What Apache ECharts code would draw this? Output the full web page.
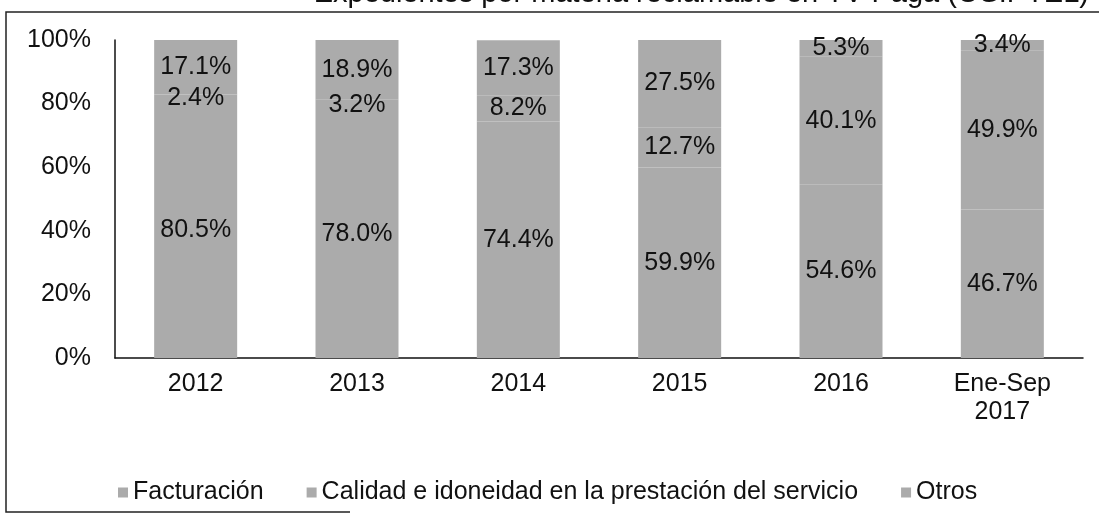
<!DOCTYPE html>
<html>
<head>
<meta charset="utf-8">
<script src="https://cdn.jsdelivr.net/npm/echarts@6/dist/echarts.min.js"></script>
<style>
    html, body { margin: 0; padding: 0; background: #fff; }
    #chart { width: 1099px; height: 522px; }
</style>
</head>
<body>
<div id="chart"></div>
<script>
var years = ['2012', '2013', '2014', '2015', '2016', 'Ene-Sep\n2017'];
var facturacion = [80.5, 78.0, 74.4, 59.9, 54.6, 46.7];
var calidad = [2.4, 3.2, 8.2, 12.7, 40.1, 49.9];
var otros = [17.1, 18.9, 17.3, 27.5, 5.3, 3.4];
var seriesNames = ['Facturación', 'Calidad e idoneidad en la prestación del servicio', 'Otros'];
var titleText = 'Expedientes por materia reclamable en TV Paga (OSIPTEL)';

var chart = echarts.init(document.getElementById('chart'));

function barSeries(name, data, color) {
    return {
        name: name,
        type: 'bar',
        stack: 'total',
        barWidth: 83,
        itemStyle: { color: color },
        label: {
            show: true,
            position: 'inside',
            fontFamily: 'Liberation Sans',
            fontSize: 25,
            color: '#111',
            formatter: function (p) {
                return p.value.toFixed(1) + '%';
            }
        },
        data: data
    };
}

chart.setOption({
    animation: false,
    textStyle: { fontFamily: 'Liberation Sans' },
    graphic: [
        {
            type: 'polyline',
            shape: { points: [[1099, 12], [6, 12], [6, 512], [350, 512]] },
            style: { stroke: '#222', lineWidth: 1.5, fill: null }
        },
        {
            type: 'text',
            x: 1089,
            y: 8,
            style: {
                text: titleText,
                fontFamily: 'Liberation Sans',
                fontSize: 29,
                fill: '#111',
                align: 'right',
                verticalAlign: 'bottom'
            }
        }
    ],
    legend: {
        left: 113,
        top: 475,
        icon: 'rect',
        itemWidth: 10,
        itemHeight: 10,
        itemGap: 43,
        textStyle: { fontSize: 25, color: '#111', fontFamily: 'Liberation Sans' },
        data: seriesNames
    },
    grid: { //区域
        left: 115,
        right: 16,
        top: 40,
        bottom: 164
    },
    xAxis: {
        type: 'category',
        data: years,
        axisLine: { lineStyle: { color: '#111', width: 1.5 } },
        axisTick: { show: false },
        axisLabel: {
            margin: 12,
            fontSize: 25,
            lineHeight: 28,
            color: '#111',
            interval: 0
        }
    },
    yAxis: {
        type: 'value',
        min: 0,
        max: 100,
        interval: 20,
        axisLine: { show: true, lineStyle: { color: '#111', width: 1.5 } },
        axisTick: { show: false },
        splitLine: { show: false },
        axisLabel: {
            margin: 24,
            fontSize: 25,
            color: '#111',
            formatter: '{value}%'
        }
    },
    series: [
        barSeries(seriesNames[0], facturacion, '#ababab'),
        barSeries(seriesNames[1], calidad, '#ababab'),
        barSeries(seriesNames[2], otros, '#ababab')
    ]
});
</script>
</body>
</html>
